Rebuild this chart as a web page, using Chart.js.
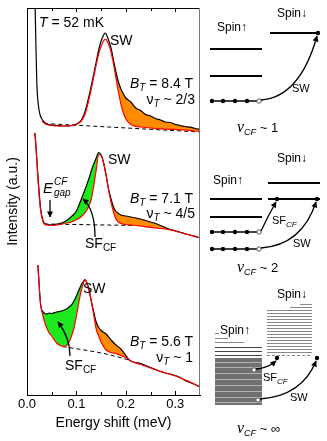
<!DOCTYPE html>
<html>
<head>
<meta charset="utf-8">
<script src="https://cdn.jsdelivr.net/npm/chart.js@4.4.0/dist/chart.umd.min.js"></script>
<style>
html, body { margin: 0; padding: 0; background: #fff; }
#wrap { position: relative; width: 327px; height: 441px; overflow: hidden; }
#chart { position: absolute; left: 0; top: 0; }
#notes { position: absolute; left: 0; top: 0; }
#notes text { font-family: 'Liberation Sans', Arial, sans-serif; fill: #000; }
</style>
</head>
<body>
<div id="wrap">
<canvas id="chart" width="210" height="441"></canvas>
<svg id="notes" width="327" height="441" xmlns="http://www.w3.org/2000/svg">
<defs>
<marker id="ah" viewBox="0 0 10 10" refX="9" refY="5" markerWidth="7" markerHeight="6" markerUnits="userSpaceOnUse" orient="auto"><path d="M0,0 L10,5 L0,10 z" fill="#000"/></marker>
</defs>
<!-- annotations on the spectra -->
<g font-size="14">
<text x="39" y="27"><tspan font-style="italic">T</tspan> = 52 mK</text>
<text x="110" y="45">SW</text>
<text x="193" y="88" text-anchor="end"><tspan font-style="italic">B</tspan><tspan font-style="italic" font-size="10" dy="3">T</tspan><tspan dy="-3"> = 8.4 T</tspan></text>
<text x="195" y="104" text-anchor="end">ν<tspan font-style="italic" font-size="10" dy="3">T</tspan><tspan dy="-3"> ~ 2/3</tspan></text>

<text x="108" y="164">SW</text>
<text x="43" y="193" font-style="italic" font-size="15">E</text>
<text x="54" y="185" font-style="italic" font-size="10">CF</text>
<text x="54" y="196" font-style="italic" font-size="10">gap</text>
<text x="193" y="203" text-anchor="end"><tspan font-style="italic">B</tspan><tspan font-style="italic" font-size="10" dy="3">T</tspan><tspan dy="-3"> = 7.1 T</tspan></text>
<text x="195" y="218" text-anchor="end">ν<tspan font-style="italic" font-size="10" dy="3">T</tspan><tspan dy="-3"> ~ 4/5</tspan></text>
<text x="85" y="248">SF<tspan font-size="10" dy="3">CF</tspan></text>

<text x="83" y="293">SW</text>
<text x="193" y="346" text-anchor="end"><tspan font-style="italic">B</tspan><tspan font-style="italic" font-size="10" dy="3">T</tspan><tspan dy="-3"> = 5.6 T</tspan></text>
<text x="193" y="362" text-anchor="end">ν<tspan font-style="italic" font-size="10" dy="3">T</tspan><tspan dy="-3"> ~ 1</tspan></text>
<text x="65" y="370">SF<tspan font-size="10" dy="3">CF</tspan></text>
</g>
<g fill="none" stroke="#000" stroke-width="1.3">
<path d="M50,200 L50,217" marker-end="url(#ah)"/>
<path d="M95,237 C95,218 91,206 83,199" marker-end="url(#ah)"/>
<path d="M70,356 C70,342 65,331 58,322" marker-end="url(#ah)"/>
</g>

<!-- level schematics -->
<g font-size="12">
<text x="277" y="17">Spin↓</text>
<text x="217" y="31">Spin↑</text>
<text x="292" y="92" font-size="11">SW</text>
<text x="237" y="132"><tspan font-family="Liberation Serif" font-style="italic" font-size="16">ν</tspan><tspan font-style="italic" font-size="9" dy="3">CF</tspan><tspan dy="-3" font-size="13"> ~ 1</tspan></text>

<text x="277" y="162">Spin↓</text>
<text x="213" y="184">Spin↑</text>
<text x="272" y="224" font-size="11">SF<tspan font-style="italic" font-size="8" dy="3">CF</tspan></text>
<text x="293" y="247" font-size="11">SW</text>
<text x="237" y="272"><tspan font-family="Liberation Serif" font-style="italic" font-size="16">ν</tspan><tspan font-style="italic" font-size="9" dy="3">CF</tspan><tspan dy="-3" font-size="13"> ~ 2</tspan></text>

<text x="277" y="298">Spin↓</text>
<text x="220" y="334">Spin↑</text>
<text x="263" y="381" font-size="11">SF<tspan font-style="italic" font-size="8" dy="3">CF</tspan></text>
<text x="290" y="401" font-size="11">SW</text>
<text x="237" y="433"><tspan font-family="Liberation Serif" font-style="italic" font-size="16">ν</tspan><tspan font-style="italic" font-size="9" dy="3">CF</tspan><tspan dy="-3" font-size="13"> ~ ∞</tspan></text>
</g>
<g stroke="#000" stroke-width="2">
<line x1="270" y1="33" x2="318" y2="33"/>
<line x1="210" y1="49" x2="262" y2="49"/>
<line x1="210" y1="76" x2="262" y2="76"/>
<line x1="268" y1="183" x2="320" y2="183"/>
<line x1="210" y1="199" x2="262" y2="199"/>
<line x1="268" y1="199" x2="320" y2="199"/>
<line x1="210" y1="217" x2="262" y2="217"/>
</g>
<g stroke="#000" stroke-width="1.5">
<line x1="210" y1="101" x2="257" y2="101"/>
<line x1="210" y1="232" x2="257" y2="232"/>
<line x1="210" y1="249" x2="257" y2="249"/>
</g>
<g fill="#000">
<circle cx="212" cy="101" r="2.2"/><circle cx="223" cy="101" r="2.2"/><circle cx="235" cy="101" r="2.2"/><circle cx="247" cy="101" r="2.2"/>
<circle cx="318" cy="33" r="2.2"/>
<circle cx="212" cy="232" r="2.2"/><circle cx="223" cy="232" r="2.2"/><circle cx="235" cy="232" r="2.2"/><circle cx="247" cy="232" r="2.2"/>
<circle cx="212" cy="249" r="2.2"/><circle cx="223" cy="249" r="2.2"/><circle cx="235" cy="249" r="2.2"/><circle cx="247" cy="249" r="2.2"/>
<circle cx="277" cy="199" r="2.2"/><circle cx="317" cy="199" r="2.2"/>
</g>
<!-- third schematic: dense levels -->
<g stroke="#888" stroke-width="1">
<line x1="300" y1="304.5" x2="312" y2="304.5"/>
<line x1="290" y1="307.5" x2="312" y2="307.5"/>
<line x1="267" y1="310.5" x2="312" y2="310.5"/>
<line x1="267" y1="313.5" x2="312" y2="313.5"/>
<line x1="267" y1="316.5" x2="312" y2="316.5"/>
<line x1="267" y1="319.5" x2="312" y2="319.5"/>
<line x1="267" y1="322.5" x2="312" y2="322.5"/>
<line x1="267" y1="325.5" x2="312" y2="325.5"/>
<line x1="267" y1="328.5" x2="312" y2="328.5"/>
<line x1="267" y1="331.5" x2="312" y2="331.5"/>
<line x1="267" y1="334.5" x2="312" y2="334.5"/>
<line x1="267" y1="337.5" x2="312" y2="337.5"/>
<line x1="267" y1="340.5" x2="312" y2="340.5"/>
<line x1="267" y1="343.5" x2="312" y2="343.5"/>
<line x1="267" y1="346.5" x2="312" y2="346.5"/>
<line x1="267" y1="349.5" x2="312" y2="349.5"/>
<line x1="267" y1="352.5" x2="312" y2="352.5"/>
<line x1="267" y1="355.5" x2="312" y2="355.5" stroke-dasharray="3,2"/>
<line x1="215" y1="333.5" x2="219" y2="333.5"/>
<line x1="215" y1="338.5" x2="228" y2="338.5"/>
<line x1="215" y1="342.5" x2="244" y2="342.5"/>
<line x1="215" y1="347.5" x2="262" y2="347.5" stroke="#444"/>
<line x1="215" y1="351.5" x2="262" y2="351.5" stroke="#444"/>
<line x1="215" y1="355.5" x2="262" y2="355.5" stroke="#444"/>
</g>
<rect x="215" y="358" width="47" height="47" fill="#707070"/>
<g stroke="#b4b4b4" stroke-width="1">
<line x1="215" y1="362.5" x2="262" y2="362.5"/>
<line x1="215" y1="367.5" x2="262" y2="367.5"/>
<line x1="215" y1="373.5" x2="262" y2="373.5"/>
<line x1="215" y1="379.5" x2="262" y2="379.5"/>
<line x1="215" y1="385.5" x2="262" y2="385.5"/>
<line x1="215" y1="391.5" x2="262" y2="391.5"/>
<line x1="215" y1="397.5" x2="262" y2="397.5"/>
<line x1="215" y1="402.5" x2="262" y2="402.5"/>
</g>
<g fill="#000">
<circle cx="277" cy="358" r="2.2"/><circle cx="317" cy="358" r="2.2"/>
</g>
<g fill="#fff" stroke="#555" stroke-width="1">
<circle cx="259" cy="101" r="2.2"/>
<circle cx="259" cy="232" r="2.2"/>
<circle cx="259" cy="249" r="2.2"/>
<circle cx="254" cy="370" r="2.2"/>
<circle cx="258" cy="400" r="2.2"/>
</g>
<g fill="none" stroke="#000" stroke-width="1.3">
<path d="M261,100 Q300,97 317,36" marker-end="url(#ah)"/>
<path d="M261,231 Q268,216 276,202" marker-end="url(#ah)"/>
<path d="M261,248 Q302,245 316,202" marker-end="url(#ah)"/>
<path d="M256,369 Q268,368 276,361" marker-end="url(#ah)"/>
<path d="M260,399 Q302,396 316,361" marker-end="url(#ah)"/>
</g>
</svg>
</div>
<script>
// energy shift (meV) and intensity (a.u.)
var eTop = [0.016,0.018,0.02,0.023,0.026,0.03,0.035,0.04,0.05,0.06,0.07,0.08,0.09,0.10,0.105,0.11,0.115,0.12,0.125,0.13,0.135,0.14,0.145,0.15,0.155,0.158,0.16,0.165,0.17,0.175,0.18,0.185,0.19,0.195,0.20,0.21,0.22,0.23,0.24,0.25,0.26,0.27,0.28,0.29,0.30,0.31,0.32,0.33,0.34,0.35];
var dataTop = [40.0,35.0,31.0,29.0,28.1,27.6,27.3,27.1,27.0,26.95,26.9,26.9,26.95,27.1,27.25,27.5,28.0,28.8,29.8,30.9,32.1,33.3,34.5,35.4,36.0,36.2,36.1,35.5,34.7,33.5,32.3,31.3,30.6,30.1,29.7,29.3,28.7,28.45,28.05,27.9,27.65,27.5,27.3,27.25,27.05,26.95,26.85,26.78,26.65,26.55];
var fitTop = [null,null,null,null,null,27.4,27.2,27.05,26.95,26.9,26.9,26.9,26.95,27.05,27.2,27.4,27.8,28.5,29.5,30.6,31.8,33.0,34.1,34.9,35.4,35.6,35.55,35.1,34.3,33.1,31.7,30.3,29.1,28.2,27.6,27.05,26.85,26.8,26.75,26.7,26.65,26.62,26.6,26.57,26.55,26.52,26.5,26.45,26.4,26.35];

var eMid = [0.016,0.018,0.02,0.022,0.025,0.028,0.032,0.035,0.04,0.05,0.06,0.07,0.08,0.09,0.10,0.11,0.12,0.125,0.13,0.135,0.14,0.145,0.15,0.155,0.16,0.165,0.17,0.175,0.18,0.185,0.19,0.20,0.21,0.22,0.23,0.24,0.25,0.26,0.27,0.28,0.29,0.30,0.31,0.32,0.33,0.34,0.35];
var dataMid = [26.2,25.0,23.5,22.0,20.0,18.5,17.5,17.2,17.05,17.0,17.1,17.2,17.45,17.85,18.4,19.6,20.9,21.6,22.4,23.1,23.7,24.25,24.0,23.2,22.0,20.6,19.6,18.8,18.35,18.15,18.0,17.9,17.8,17.7,17.6,17.45,17.3,17.15,16.95,16.75,16.55,16.42,16.28,16.12,16.0,15.86,15.72];
var fitMid = [26.2,24.9,23.3,21.7,19.7,18.3,17.4,17.1,17.0,16.95,17.0,17.1,17.2,17.3,17.55,17.85,18.4,18.9,19.6,20.9,22.5,24.0,24.0,23.2,22.0,20.5,19.3,18.3,17.6,17.3,17.15,17.05,17.0,16.95,16.9,16.82,16.76,16.7,16.65,16.6,16.5,16.4,16.25,16.1,15.98,15.85,15.7];

var eBot = [0.022,0.024,0.026,0.028,0.03,0.035,0.04,0.045,0.05,0.06,0.07,0.075,0.08,0.085,0.09,0.095,0.10,0.105,0.11,0.115,0.117,0.12,0.125,0.13,0.135,0.14,0.145,0.15,0.16,0.17,0.18,0.185,0.19,0.20,0.205,0.21,0.22,0.23,0.24,0.25,0.26,0.27,0.28,0.29,0.30,0.31,0.32,0.33,0.34,0.35];
var dataBot = [13.0,11.5,9.9,8.9,8.5,8.2,8.1,8.2,8.15,8.3,8.4,8.5,8.6,8.8,9.0,9.4,9.9,10.5,11.05,11.4,11.55,11.35,10.6,9.4,8.3,7.3,6.75,6.45,6.1,5.5,5.0,4.8,4.6,3.95,3.6,3.4,3.25,3.15,2.95,2.75,2.55,2.35,2.2,2.1,1.95,1.75,1.45,1.25,1.05,0.8];
var fitBot = [13.0,11.5,9.9,8.9,8.4,7.4,6.7,6.2,5.9,5.2,4.9,4.85,4.95,5.3,5.9,6.7,7.9,9.3,10.5,11.3,11.55,11.35,10.6,9.4,8.0,6.6,5.9,5.3,4.5,4.25,4.15,4.05,3.95,3.75,3.6,3.4,3.2,3.05,2.88,2.7,2.52,2.36,2.2,2.05,1.9,1.7,1.5,1.3,1.05,0.8];

// dashed backgrounds
var baseTopE = [0.035, 0.35], baseTopI = [27.15, 26.3];
var baseMidE = [0.035, 0.22], baseMidI = [17.1, 16.95];
var baseBotE = [0.072, 0.16, 0.21], baseBotI = [4.85, 4.1, 3.45];

// shaded excess (data above fit): [from, to] in meV
var orangeTop = [0.175, 0.35];
var greenMid = [0.05, 0.15], orangeMid = [0.165, 0.29];
var greenBot = [0.028, 0.117], orangeBot = [0.13, 0.21];

var xTickMarks = [0.05, 0.1, 0.15, 0.2, 0.25, 0.3];

var ORANGE = '#ff8c00', GREEN = '#1ee81e';

function pts(xs, ys) {
	return xs.map(function(x, i) { return {x: x, y: ys[i]}; });
}
function part(xs, ys, r) {
	return xs.map(function(x, i) {
		return {x: x, y: (x >= r[0] - 1e-9 && x <= r[1] + 1e-9) ? ys[i] : null};
	});
}
function fitLine(xs, ys) {
	return {data: pts(xs, ys), borderColor: '#ff0000', borderWidth: 1.2, order: 1};
}
function dataLine(xs, ys) {
	return {data: pts(xs, ys), borderColor: '#000', borderWidth: 1.2, order: 2};
}
function baseLine(xs, ys) {
	return {data: pts(xs, ys), borderColor: '#000', borderWidth: 1, borderDash: [4, 3], order: 3};
}
function shade(xs, ys, r, target, color) {
	return {data: part(xs, ys, r), borderColor: 'rgba(0,0,0,0)', borderWidth: 1,
		backgroundColor: color, fill: target, order: 4};
}

var datasets = [
	fitLine(eTop, fitTop),
	fitLine(eMid, fitMid),
	fitLine(eBot, fitBot),
	dataLine(eTop, dataTop),
	dataLine(eMid, dataMid),
	dataLine(eBot, dataBot),
	baseLine(baseTopE, baseTopI),
	baseLine(baseMidE, baseMidI),
	baseLine(baseBotE, baseBotI),
	shade(eTop, dataTop, orangeTop, 0, ORANGE),
	shade(eMid, dataMid, greenMid, 1, GREEN),
	shade(eMid, dataMid, orangeMid, 1, ORANGE),
	shade(eBot, dataBot, greenBot, 2, GREEN),
	shade(eBot, dataBot, orangeBot, 2, ORANGE)
];

// top and right frame plus inward tick marks
var framePlugin = {
	id: 'frame',
	afterDraw: function(chart) {
		var ctx = chart.ctx, a = chart.chartArea, sx = chart.scales.x;
		ctx.save();
		ctx.lineWidth = 1;
		ctx.strokeStyle = '#000';
		ctx.beginPath();
		ctx.moveTo(a.left, a.top + 0.5);
		ctx.lineTo(a.right, a.top + 0.5);
		ctx.stroke();
		ctx.strokeStyle = '#777';
		ctx.beginPath();
		ctx.moveTo(a.right - 0.5, a.top);
		ctx.lineTo(a.right - 0.5, a.bottom);
		ctx.stroke();
		ctx.strokeStyle = '#000';
		xTickMarks.forEach(function(v, i) {
			var px = Math.round(sx.getPixelForValue(v)) + 0.5;
			var len = (i % 2 === 1) ? 4 : 3;
			ctx.beginPath();
			ctx.moveTo(px, a.bottom);
			ctx.lineTo(px, a.bottom - len);
			ctx.moveTo(px, a.top);
			ctx.lineTo(px, a.top + len);
			ctx.stroke();
		});
		ctx.restore();
	}
};

Chart.defaults.font.family = "'Liberation Sans', Arial, sans-serif";
Chart.defaults.color = '#000';

var chart = new Chart(document.getElementById('chart'), {
	type: 'line',
	data: {datasets: datasets},
	plugins: [framePlugin],
	options: {
		responsive: false,
		animation: false,
		devicePixelRatio: 1,
		layout: {padding: {top: 8, right: 10, left: 0, bottom: 0}},
		plugins: {legend: {display: false}, tooltip: {enabled: false}},
		elements: {
			point: {radius: 0},
			line: {cubicInterpolationMode: 'monotone'}
		},
		scales: {
			x: {
				type: 'linear', min: 0, max: 0.35,
				afterFit: function(s) { s.height = 46; },
				grid: {display: false, drawTicks: false},
				border: {display: true, color: '#000', width: 1},
				ticks: {
					stepSize: 0.1, includeBounds: false, autoSkip: false, maxRotation: 0,
					padding: 2, color: '#000', font: {size: 13},
					callback: function(v) { return v.toFixed(1); }
				},
				title: {display: true, text: 'Energy shift (meV)', color: '#000', font: {size: 14}, padding: {top: 0, bottom: 9}}
			},
			y: {
				min: 0, max: 38.7,
				afterFit: function(s) { s.width = 27; },
				grid: {display: false, drawTicks: false},
				border: {display: true, color: '#000', width: 1},
				ticks: {display: false},
				title: {display: true, text: 'Intensity (a.u.)', color: '#000', font: {size: 14}, padding: {top: 4.6, bottom: 0}}
			}
		}
	}
});
</script>
</body>
</html>
